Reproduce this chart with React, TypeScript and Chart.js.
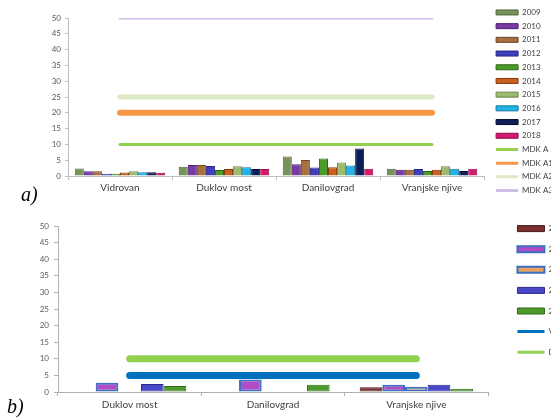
import React, { useEffect, useRef } from 'react';
import { Chart, registerables } from 'chart.js';

Chart.register(...registerables);

// ---------- Chart a) ----------
const sitesA = ['Vidrovan', 'Duklov most', 'Danilovgrad', 'Vranjske njive'];
const yearsA = ['2009', '2010', '2011', '2012', '2013', '2014', '2015', '2016', '2017', '2018'];
const y2009 = [2.35, 2.9, 6.2, 2.3];
const y2010 = [1.5, 3.5, 3.7, 2.0];
const y2011 = [1.5, 3.5, 5.1, 2.0];
const y2012 = [0.75, 3.2, 2.7, 2.2];
const y2013 = [0.75, 1.9, 5.5, 1.6];
const y2014 = [1.1, 2.2, 2.8, 2.0];
const y2015 = [1.5, 3.1, 4.3, 3.1];
const y2016 = [1.2, 2.8, 3.3, 2.3];
const y2017 = [1.2, 2.2, 8.7, 1.6];
const y2018 = [1.0, 2.2, 2.3, 2.3];
const seriesA = [y2009, y2010, y2011, y2012, y2013, y2014, y2015, y2016, y2017, y2018];
const mdkLabels = ['MDK A', 'MDK A1', 'MDK A2', 'MDK A3'];
const mdkA = [10, 10, 10, 10];
const mdkA1 = [20, 20, 20, 20];
const mdkA2 = [25, 25, 25, 25];
const mdkA3 = [50, 50, 50, 50];
const mdkSeries = [mdkA, mdkA1, mdkA2, mdkA3];
const ticksA = { min: 0, max: 50, step: 5 };

// ---------- Chart b) ----------
const sitesB = ['Duklov most', 'Danilovgrad', 'Vranjske njive'];
const yearsB = ['2014', '2015', '2016', '2017', '2018'];
const b1 = [null, null, 1.4];
const b2 = [2.8, 3.8, 2.2];
const b3 = [null, null, 1.6];
const b4 = [2.4, null, 2.2];
const b5 = [1.8, 2.2, 1.0];
const seriesB = [b1, b2, b3, b4, b5];
const limitLabelsB = ['VDK', 'DK'];
const limitV = [5, 5, 5];
const limitD = [10, 10, 10];
const ticksB = { min: 0, max: 50, step: 5 };

// ---------- styles ----------
const FONT = 'Lato';
const colorsA = ['#77935A', '#7A3AA6', '#A8703F', '#3F3FBE', '#4C9A2A', '#C8601E', '#9DBB6E', '#22B2EA', '#0E1E58', '#D5196E'];
const edgesA = ['#4E6636', '#4B1F6F', '#6E4626', '#26267E', '#2F6616', '#85390F', '#6A8548', '#11789F', '#050D30', '#8E0D48'];
const mdkColors = ['#92D050', '#F79646', '#DCE8C6', '#D2BCE8'];
const mdkWidths = [3, 6, 5, 3];
const colorsB = ['#7A2E2E', '#B24CC4', '#E4A262', '#4848C8', '#4F9A2E'];
const edgesB = ['#4E1A1A', '#3C6FC4', '#3C6FC4', '#2A2A8C', '#2E6B17'];
const bordersB = [1, 2, 2, 1, 1];
const limitColorsB = ['#0070C0', '#92D050'];

const makeLabels = (lineW: number) => (chart: any) => {
  const items = (Chart.defaults.plugins.legend.labels as any).generateLabels(chart);
  return items.map((it: any) => {
    const ds: any = chart.data.datasets[it.datasetIndex];
    if (ds.type === 'line') {
      return { ...it, pointStyle: 'line', strokeStyle: ds.borderColor, lineWidth: lineW };
    }
    return { ...it, pointStyle: 'rect', fillStyle: ds.backgroundColor, strokeStyle: ds.borderColor, lineWidth: ds.borderWidth };
  });
};

const dummyTop = (h: number) => ({
  type: 'linear', axis: 'x', position: 'top', display: true,
  ticks: { display: false }, grid: { display: false }, border: { display: false },
  afterFit: (s: any) => { s.height = h; },
});
const dummyRight = (areaRight: number) => ({
  type: 'linear', axis: 'y', position: 'right', display: true,
  ticks: { display: false }, grid: { display: false }, border: { display: false },
  afterFit: (s: any) => { s.width = Math.max(0, s.chart.width - s.chart.legend.width - areaRight); },
});

function configA(): any {
  return {
    type: 'bar',
    data: {
      labels: sitesA,
      datasets: [
        ...yearsA.map((y, i) => ({
          label: y, data: seriesA[i], backgroundColor: colorsA[i], borderColor: edgesA[i], borderWidth: 1,
          categoryPercentage: 0.87, barPercentage: 1, xAxisID: 'x', yAxisID: 'y',
        })),
        ...mdkLabels.map((l, i) => ({
          type: 'line', label: l, data: mdkSeries[i], borderColor: mdkColors[i], backgroundColor: mdkColors[i],
          borderWidth: mdkWidths[i], pointRadius: 0, pointHoverRadius: 0, fill: false, borderCapStyle: 'round',
          xAxisID: 'x', yAxisID: 'y',
        })),
      ],
    },
    options: {
      animation: false, responsive: false, events: [],
      layout: { padding: 0 },
      plugins: {
        tooltip: { enabled: false },
        legend: {
          position: 'right', align: 'center',
          labels: {
            usePointStyle: true, pointStyleWidth: 22, boxHeight: 5, padding: 5.7,
            font: { size: 8, family: FONT }, color: '#404040', generateLabels: makeLabels(3),
          },
        },
      },
      scales: {
        x: {
          type: 'category', position: 'bottom', offset: true,
          grid: { offset: true, drawOnChartArea: false, drawTicks: true, tickLength: 4, color: '#C0C0C0' },
          border: { display: true, color: '#BFBFBF' },
          ticks: { font: { size: 10, family: FONT }, color: '#404040', padding: 2 },
          afterFit: (s: any) => { s.height = 27; },
        },
        y: {
          type: 'linear', position: 'left', min: ticksA.min, max: ticksA.max,
          ticks: { stepSize: ticksA.step, font: { size: 8, family: FONT }, color: '#595959', padding: 4 },
          grid: { drawOnChartArea: false, drawTicks: true, tickLength: 3, color: '#C0C0C0' },
          border: { display: true, color: '#BFBFBF' },
          afterFit: (s: any) => { s.width = 68; },
        },
        xTop: dummyTop(18),
        yRight: dummyRight(484),
      },
    },
  };
}

function configB(): any {
  return {
    type: 'bar',
    data: {
      labels: sitesB,
      datasets: [
        ...yearsB.map((y, i) => ({
          label: y, data: seriesB[i], backgroundColor: colorsB[i], borderColor: edgesB[i], borderWidth: bordersB[i],
          borderSkipped: false, categoryPercentage: 0.79, barPercentage: 1, xAxisID: 'x', yAxisID: 'y',
        })),
        ...limitLabelsB.map((l, i) => ({
          type: 'line', label: l, data: i === 0 ? limitV : limitD, borderColor: limitColorsB[i], backgroundColor: limitColorsB[i],
          borderWidth: 7, pointRadius: 0, pointHoverRadius: 0, fill: false, borderCapStyle: 'round',
          xAxisID: 'x', yAxisID: 'y',
        })),
      ],
    },
    options: {
      animation: false, responsive: false, events: [],
      layout: { padding: 0 },
      plugins: {
        tooltip: { enabled: false },
        legend: {
          position: 'right', align: 'start',
          labels: {
            usePointStyle: true, pointStyleWidth: 27, boxHeight: 6, padding: 12.6,
            font: { size: 8, family: FONT }, color: '#404040', generateLabels: makeLabels(3),
          },
        },
      },
      scales: {
        x: {
          type: 'category', position: 'bottom', offset: true,
          grid: { offset: true, drawOnChartArea: false, drawTicks: true, tickLength: 4, color: '#B0B0B0' },
          border: { display: true, color: '#B0B0B0' },
          ticks: { font: { size: 10, family: FONT }, color: '#404040', padding: 3 },
          afterFit: (s: any) => { s.height = 27; },
        },
        y: {
          type: 'linear', position: 'left', min: ticksB.min, max: ticksB.max,
          ticks: { stepSize: ticksB.step, font: { size: 8, family: FONT }, color: '#595959', padding: 5 },
          grid: { drawOnChartArea: false, drawTicks: true, tickLength: 4, color: '#B0B0B0' },
          border: { display: true, color: '#B0B0B0' },
          afterFit: (s: any) => { s.width = 58; },
        },
        xTop: dummyTop(14),
        yRight: dummyRight(488),
      },
    },
  };
}

export default function App() {
  const refA = useRef<HTMLCanvasElement>(null);
  const refB = useRef<HTMLCanvasElement>(null);
  useEffect(() => {
    const a = new Chart(refA.current as HTMLCanvasElement, configA());
    const b = new Chart(refB.current as HTMLCanvasElement, configB());
    return () => { a.destroy(); b.destroy(); };
  }, []);
  const lab: React.CSSProperties = {
    position: 'absolute', fontFamily: '"Liberation Serif", serif', fontStyle: 'italic', fontSize: 20,
    lineHeight: '20px', color: '#000',
  };
  return (
    <div style={{ position: 'absolute', left: 0, top: 0, width: 551, height: 419, overflow: 'hidden', background: '#fff' }}>
      <canvas ref={refA} width={563} height={203} style={{ position: 'absolute', left: 0, top: 0 }} />
      <canvas ref={refB} width={577} height={207} style={{ position: 'absolute', left: 0, top: 212 }} />
      <span style={{ ...lab, left: 21, top: 184 }}>a)</span>
      <span style={{ ...lab, left: 7, top: 396 }}>b)</span>
    </div>
  );
}
